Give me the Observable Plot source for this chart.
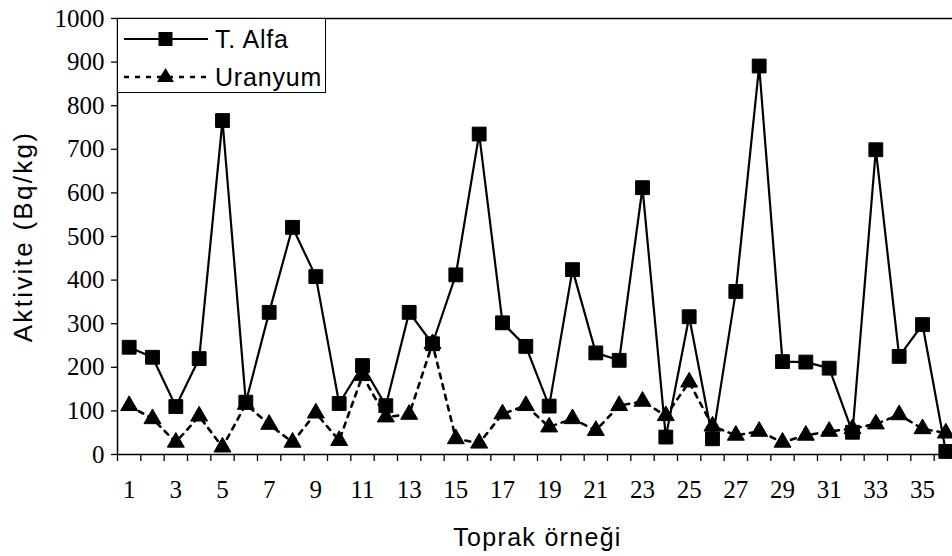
<!DOCTYPE html>
<html>
<head>
<meta charset="utf-8">
<script src="https://cdn.jsdelivr.net/npm/d3@7"></script>
<script src="https://cdn.jsdelivr.net/npm/@observablehq/plot@0.6"></script>
<style>
  html, body { margin: 0; padding: 0; background: #fff; }
  #wrap { position: relative; width: 952px; height: 556px; overflow: hidden; }
  #legend { position: absolute; left: 117px; top: 18px; width: 209px; height: 75px;
            border: 1.5px solid #000; background: #fff; box-sizing: border-box; }
  #legend svg { position: absolute; left: 0; top: 0; }
</style>
</head>
<body>
<div id="wrap"></div>
<script>
const samples = d3.range(1, 37);
const alfa = [246, 223, 110, 220, 766, 120, 326, 521, 408, 117, 204, 112, 326, 254, 412, 735, 302, 248, 111, 424, 233, 216, 612, 40, 316, 36, 374, 891, 213, 212, 198, 51, 699, 225, 298, 7];
const uranyum = [112, 82, 28, 88, 17, 115, 69, 28, 95, 32, 181, 86, 92, 254, 36, 26, 93, 112, 63, 82, 55, 112, 122, 89, 166, 65, 44, 53, 28, 44, 53, 59, 70, 91, 59, 49];
const yTicks = d3.range(0, 1001, 100);
const xLabels = d3.range(1, 36, 2);
const xBounds = d3.range(0.5, 37, 1);
const seriesNames = ["T. Alfa", "Uranyum"];
const xTitle = "Toprak örneği";
const yTitle = "Aktivite (Bq/kg)";

const alfaData = samples.map((s, i) => ({s, v: alfa[i]}));
const uData = samples.map((s, i) => ({s, v: uranyum[i]}));

const serif = "Liberation Serif, Times New Roman, serif";
const sans = "Liberation Sans, Arial, sans-serif";

const chart = Plot.plot({
  width: 952,
  height: 556,
  marginLeft: 117,
  marginRight: -5,
  marginTop: 18,
  marginBottom: 102,
  style: {background: "#fff", color: "#000", overflow: "visible"},
  x: {type: "linear", domain: [0.5, 36.5]},
  y: {domain: [0, 1000]},
  marks: [
    Plot.frame({stroke: "#000", strokeWidth: 1.5}),
    Plot.axisY({ticks: yTicks, tickSize: 6, tickFormat: () => "", label: null, strokeWidth: 1.3}),
    Plot.axisX({ticks: xBounds, tickSize: 7, tickFormat: () => "", label: null, strokeWidth: 1.3}),
    Plot.text(yTicks, {y: d => d, text: d => String(d), frameAnchor: "left", dx: -13, textAnchor: "end", lineAnchor: "middle", fontFamily: serif, fontSize: 25, fill: "#000"}),
    Plot.text(xLabels, {x: d => d, y: () => 0, text: d => String(d), dy: 35, textAnchor: "middle", lineAnchor: "middle", fontFamily: serif, fontSize: 25, fill: "#000"}),
    Plot.line(alfaData, {x: "s", y: "v", stroke: "#000", strokeWidth: 2.2}),
    Plot.dot(alfaData, {x: "s", y: "v", symbol: "square", r: 7.8, fill: "#000", stroke: "#000", strokeWidth: 1}),
    Plot.line(uData, {x: "s", y: "v", stroke: "#000", strokeWidth: 2.6, strokeDasharray: "5,6"}),
    Plot.dot(uData, {x: "s", y: "v", symbol: "triangle", r: 6.3, fill: "#000", stroke: "#000", strokeWidth: 1}),
    Plot.text([xTitle], {text: d => d, frameAnchor: "bottom", dy: 83, textAnchor: "middle", lineAnchor: "middle", fontFamily: sans, fontSize: 25, fill: "#000"}),
    Plot.text([yTitle], {text: d => d, frameAnchor: "left", dx: -94, rotate: -90, textAnchor: "middle", lineAnchor: "middle", fontFamily: sans, fontSize: 26, fill: "#000"})
  ]
});

// stretch titles like the scanned original; keep numerals serif
d3.select(chart).selectAll("text").each(function() {
  const t = this.textContent;
  if (t === yTitle) this.style.letterSpacing = "2.3px";
  if (t === xTitle) this.style.letterSpacing = "1.3px";
  if (/^\d+$/.test(t)) this.style.fontFamily = "'Liberation Serif', 'Times New Roman', serif";
});

const wrap = document.getElementById("wrap");
wrap.appendChild(chart);

// Legend (inside plot area, top-left)
const legend = document.createElement("div");
legend.id = "legend";
legend.innerHTML = `
<svg width="209" height="75" xmlns="http://www.w3.org/2000/svg">
  <line x1="6" y1="20" x2="90" y2="20" stroke="#000" stroke-width="2.2"/>
  <rect x="40.5" y="13" width="14" height="14" fill="#000"/>
  <text x="97" y="29" font-family="Liberation Sans, Arial, sans-serif" font-size="25" letter-spacing="0.8" fill="#000">${seriesNames[0]}</text>
  <line x1="6" y1="58" x2="92" y2="58" stroke="#000" stroke-width="2.6" stroke-dasharray="5,6"/>
  <path d="M47.5,49 L56,63 L39,63 Z" fill="#000"/>
  <text x="97" y="67" font-family="Liberation Sans, Arial, sans-serif" font-size="25" letter-spacing="0.8" fill="#000">${seriesNames[1]}</text>
</svg>`;
wrap.appendChild(legend);
</script>
</body>
</html>
